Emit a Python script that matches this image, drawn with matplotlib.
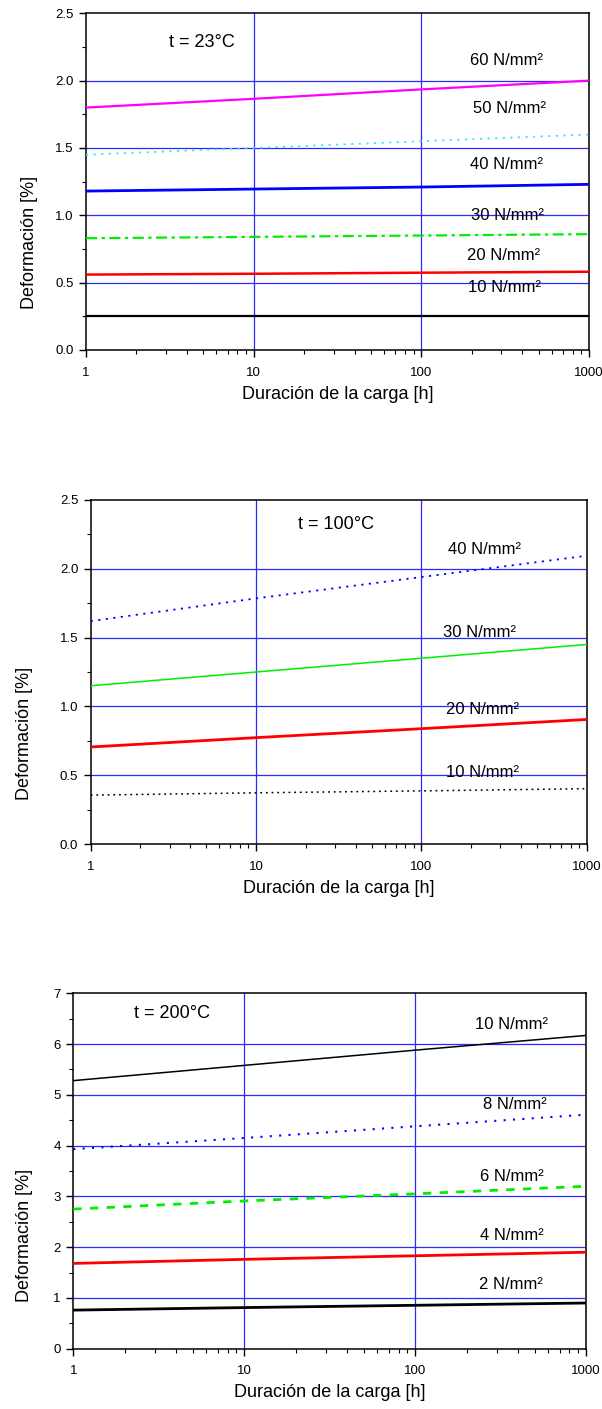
import matplotlib
matplotlib.use("Agg")
import matplotlib.pyplot as plt
from matplotlib.ticker import LogLocator, FixedLocator, NullFormatter, FixedFormatter, MultipleLocator

plt.rcParams['font.family'] = ['Liberation Sans', 'DejaVu Sans']

# ---------------- data ----------------
hours = [1, 10, 100, 1000]
x_tick_labels = ["1", "10", "100", "1000"]

# t = 23 °C
t23_labels = ["60 N/mm²", "50 N/mm²", "40 N/mm²", "30 N/mm²", "20 N/mm²", "10 N/mm²"]
t23_60 = [1.80, 1.865, 1.935, 2.00]
t23_50 = [1.45, 1.50, 1.55, 1.60]
t23_40 = [1.18, 1.195, 1.21, 1.23]
t23_30 = [0.83, 0.84, 0.85, 0.86]
t23_20 = [0.56, 0.566, 0.574, 0.581]
t23_10 = [0.25, 0.25, 0.25, 0.25]

# t = 100 °C
t100_labels = ["40 N/mm²", "30 N/mm²", "20 N/mm²", "10 N/mm²"]
t100_40 = [1.62, 1.785, 1.94, 2.095]
t100_30 = [1.15, 1.25, 1.35, 1.45]
t100_20 = [0.705, 0.773, 0.838, 0.905]
t100_10 = [0.355, 0.372, 0.386, 0.402]

# t = 200 °C
t200_labels = ["10 N/mm²", "8 N/mm²", "6 N/mm²", "4 N/mm²", "2 N/mm²"]
t200_10 = [5.28, 5.58, 5.88, 6.17]
t200_8 = [3.93, 4.15, 4.38, 4.61]
t200_6 = [2.75, 2.91, 3.05, 3.20]
t200_4 = [1.68, 1.76, 1.83, 1.90]
t200_2 = [0.76, 0.81, 0.855, 0.90]

y1_ticks = [0.0, 0.5, 1.0, 1.5, 2.0, 2.5]
y3_ticks = [0, 1, 2, 3, 4, 5, 6, 7]

XLABEL = "Duración de la carga [h]"
YLABEL = "Deformación [%]"

GRID_C = '#2a2aff'

fig = plt.figure(figsize=(6.02, 14.09), dpi=100)


def setup(ax, yticks, yfmt, yminor, ylabel_x):
    ax.set_xscale('log')
    ax.set_xlim(1, 1000)
    ax.set_ylim(yticks[0], yticks[-1])
    ax.xaxis.set_major_locator(FixedLocator(hours))
    ax.xaxis.set_major_formatter(FixedFormatter(x_tick_labels))
    ax.xaxis.set_minor_locator(LogLocator(base=10, subs=range(2, 10)))
    ax.xaxis.set_minor_formatter(NullFormatter())
    ax.set_yticks(yticks)
    ax.set_yticklabels([yfmt.format(v) for v in yticks])
    ax.yaxis.set_minor_locator(MultipleLocator(yminor))
    ax.tick_params(axis='both', which='major', direction='out', length=5, width=1,
                   labelsize=9.5, colors='black', pad=4)
    ax.tick_params(axis='x', which='major', pad=7)
    ax.tick_params(axis='both', which='minor', direction='out', length=3, width=0.8)
    for s in ax.spines.values():
        s.set_linewidth(1.1)
        s.set_color('black')
    ax.spines['right'].set_color('#333333')
    ax.spines['right'].set_linewidth(1.4)
    # grid lines (blue) at major ticks inside plot
    for xv in hours[1:-1]:
        ax.axvline(xv, color=GRID_C, lw=0.9, zorder=1)
    for yv in yticks[1:-1]:
        ax.axhline(yv, color=GRID_C, lw=0.9, zorder=1)
    ax.set_xlabel(XLABEL, fontsize=13, labelpad=5)
    ax.set_ylabel(YLABEL, fontsize=13)
    ax.yaxis.set_label_coords(ylabel_x, 0.32)


# ---- chart 1 ----
ax1 = fig.add_axes([86/602, 1 - 350/1409, 503/602, 336.7/1409])
setup(ax1, y1_ticks, "{:.1f}", 0.25, -0.095)
ax1.plot(hours, t23_60, color='#ff00ff', lw=1.6, zorder=3)
ax1.plot(hours, t23_50, color='#33e6ff', lw=1.3, ls=(0, (1.2, 3)), zorder=3)
ax1.plot(hours, t23_40, color='#0000ff', lw=2.0, zorder=3)
ax1.plot(hours, t23_30, color='#00ee00', lw=1.6, ls=(0, (5, 2, 1.5, 2)), zorder=3)
ax1.plot(hours, t23_20, color='#ff0000', lw=1.8, zorder=3)
ax1.plot(hours, t23_10, color='black', lw=1.6, zorder=3)
t23_pos = [(324, 2.15), (335, 1.79), (320, 1.38), (325, 0.997), (310, 0.70), (312, 0.465)]
for lab, (xp, yp) in zip(t23_labels, t23_pos):
    ax1.text(xp, yp, lab, fontsize=12, ha='center', va='center', zorder=4)
ax1.text(4.9, 2.28, "t = 23°C", fontsize=13, ha='center', va='center')

# ---- chart 2 ----
ax2 = fig.add_axes([90.7/602, 1 - 844/1409, 496/602, 344/1409])
setup(ax2, y1_ticks, "{:.1f}", 0.25, -0.116)
ax2.plot(hours, t100_40, color='#0000ff', lw=1.3, ls=(0, (1.2, 3)), zorder=3)
ax2.plot(hours, t100_30, color='#00ee00', lw=1.1, zorder=3)
ax2.plot(hours, t100_20, color='#ff0000', lw=2.0, zorder=3)
ax2.plot(hours, t100_10, color='black', lw=1.1, ls=(0, (1.2, 2.5)), zorder=3)
t100_pos = [(241, 2.14), (226, 1.536), (233, 0.974), (233, 0.523)]
for lab, (xp, yp) in zip(t100_labels, t100_pos):
    ax2.text(xp, yp, lab, fontsize=12, ha='center', va='center', zorder=4)
ax2.text(30.5, 2.325, "t = 100°C", fontsize=13, ha='center', va='center')

# ---- chart 3 ----
ax3 = fig.add_axes([73.3/602, 1 - 1348.7/1409, 512.7/602, 355.4/1409])
setup(ax3, y3_ticks, "{:d}", 0.5, -0.079)
ax3.plot(hours, t200_10, color='black', lw=1.1, zorder=3)
ax3.plot(hours, t200_8, color='#0000ff', lw=1.5, ls=(0, (1, 3.5)), zorder=3)
ax3.plot(hours, t200_6, color='#00ee00', lw=2.0, ls=(0, (3, 3)), zorder=3)
ax3.plot(hours, t200_4, color='#ff0000', lw=2.0, zorder=3)
ax3.plot(hours, t200_2, color='black', lw=2.0, zorder=3)
t200_pos = [(366, 6.38), (383, 4.81), (366, 3.40), (366, 2.22), (366, 1.27)]
for lab, (xp, yp) in zip(t200_labels, t200_pos):
    ax3.text(xp, yp, lab, fontsize=12, ha='center', va='center', zorder=4)
ax3.text(3.8, 6.60, "t = 200°C", fontsize=13, ha='center', va='center')

fig.savefig("out.png", dpi=100)
